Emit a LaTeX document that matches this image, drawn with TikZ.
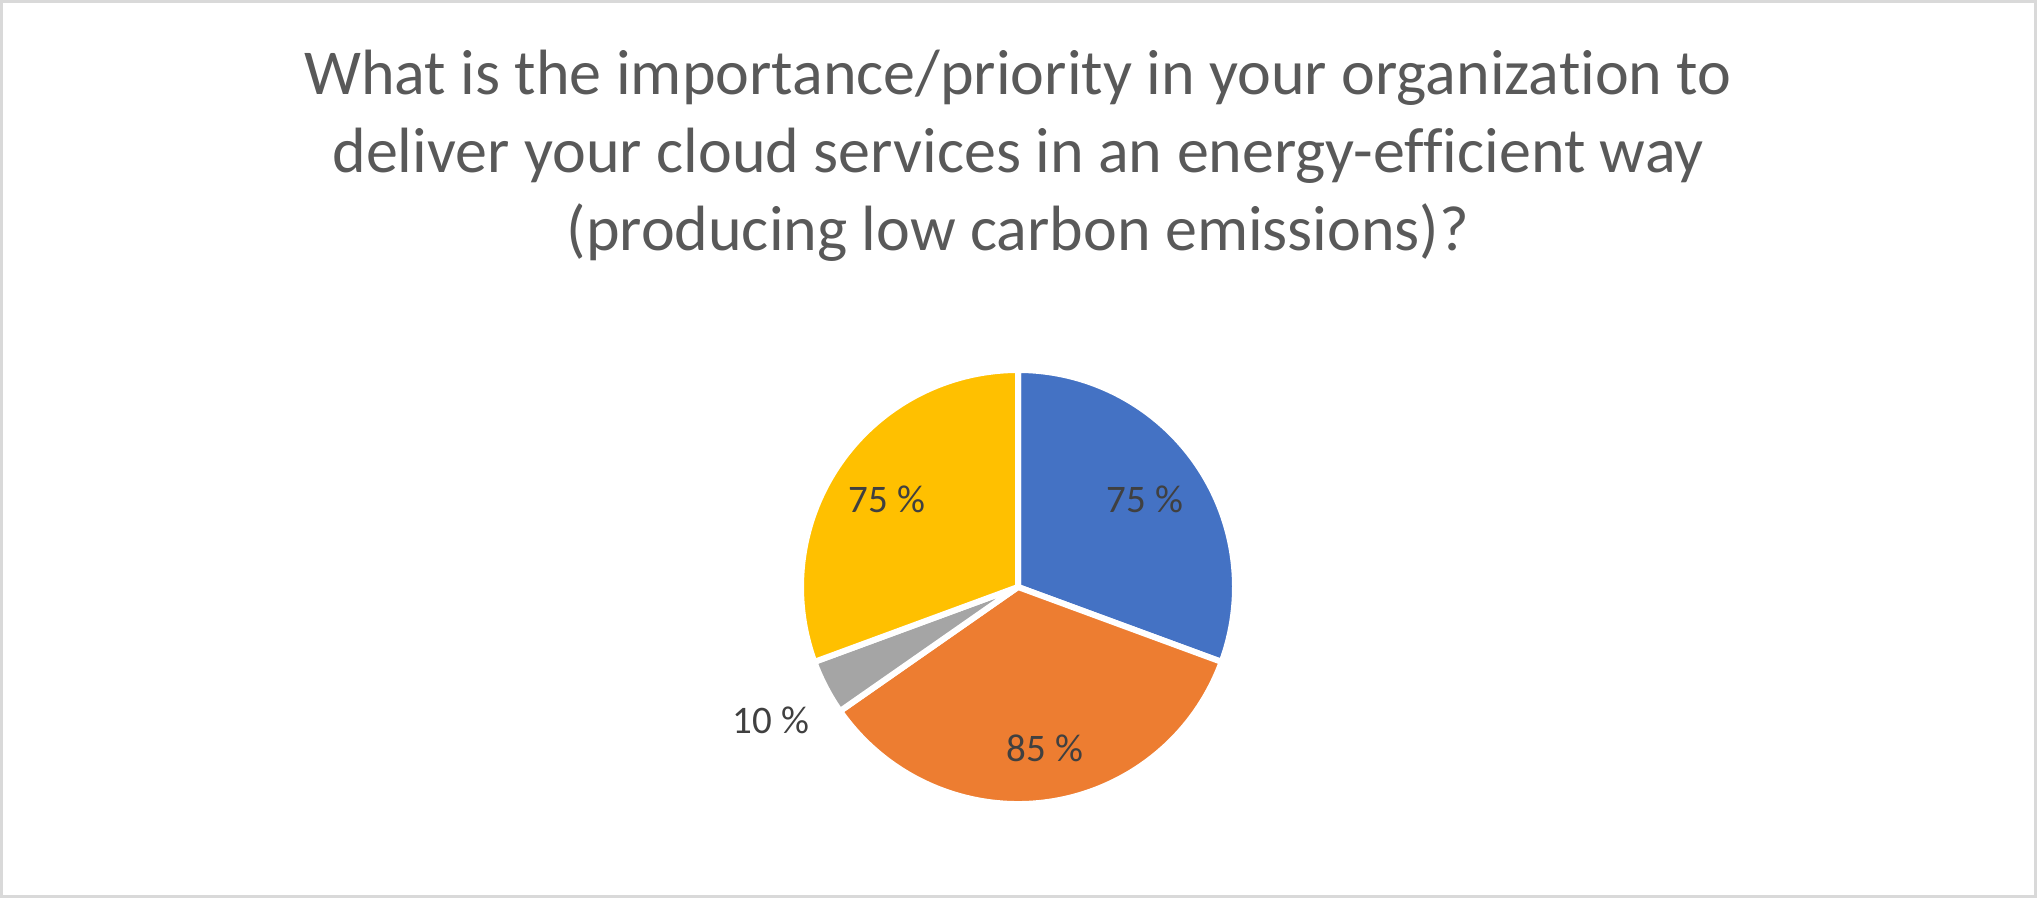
\documentclass[tikz,border=0pt]{standalone}
\usepackage{fontspec}
\setmainfont{Carlito}[Ligatures=NoCommon]
\definecolor{pieblue}{HTML}{4472C4}
\definecolor{pieorange}{HTML}{ED7D31}
\definecolor{piegray}{HTML}{A5A5A5}
\definecolor{pieyellow}{HTML}{FFC000}
\definecolor{titlegray}{HTML}{595959}
\definecolor{labelgray}{HTML}{404040}
\definecolor{framegray}{HTML}{D9D9D9}
\tikzset{
  slice/.style = {draw=white, line width=3pt, line join=round},
  pct/.style = {anchor=base, text=labelgray, font=\fontsize{19.5}{23}\selectfont, inner sep=0pt}
}
\begin{document}
\begin{tikzpicture}[x = 0.5pt, y = 0.5pt]
\useasboundingbox (0,0) rectangle (2037,898);
\draw[framegray, line width=1.5pt] (1.5,1.5) rectangle (2035.5,896.5);
% base of a multi-line node is its last line
\node[anchor=base, align=center, text=titlegray, inner sep=0pt,
  font=\fontsize{32}{39}\selectfont] (title) at (1018,647)
  {What is the importance/priority in your organization to\\
   deliver your cloud services in an energy-efficient way\\
   (producing low carbon emissions)?};
\coordinate (c) at (1018,311);
\foreach \a/\b/\col in {90/-20.2/pieblue, -20.2/-145.1/pieorange,
                        -145.1/-159.8/piegray, 200.2/90/pieyellow}
  \draw[slice, fill=\col] (c) -- ++(\a:217) arc[start angle=\a, end angle=\b, radius=217] -- cycle;
\node[pct] (blue) at (1145,385) {75 \%};
\node[pct] (yellow) at (887,385) {75 \%};
\node[pct] (orange) at (1045,136) {85 \%};
\node[pct] (gray) at (771,164) {10 \%};
\end{tikzpicture}
\end{document}
